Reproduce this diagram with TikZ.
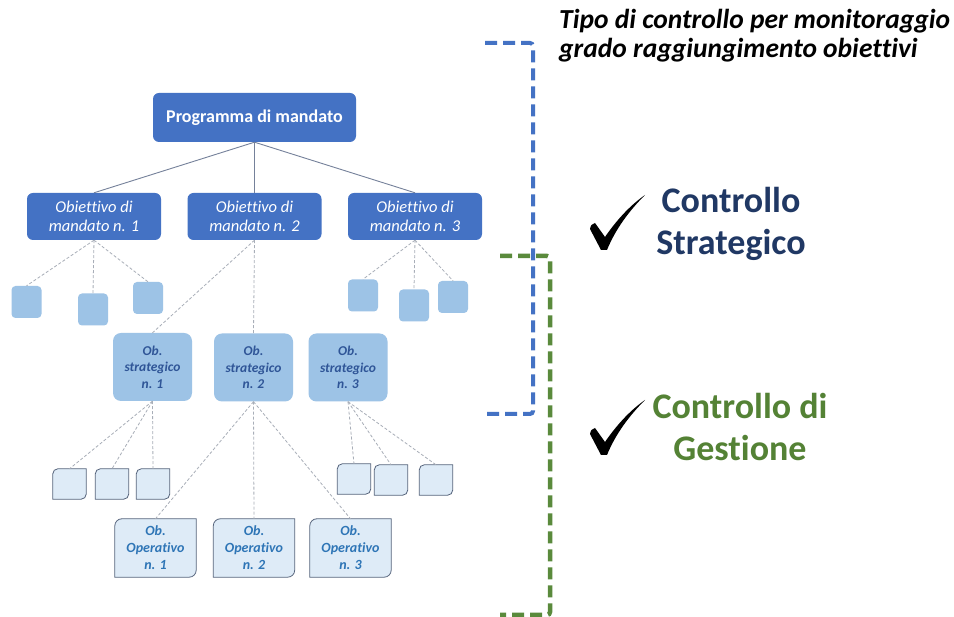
\documentclass[tikz,border=0pt]{standalone}
\usepackage{fontspec}
\setmainfont{Carlito}[Ligatures={NoCommon}]
\usetikzlibrary{calc,backgrounds}
\definecolor{dblue}{HTML}{4472C4}
\definecolor{mblue}{HTML}{9DC3E6}
\definecolor{lblue}{HTML}{DEEBF7}
\definecolor{stxt}{HTML}{2F5597}
\definecolor{optxt}{HTML}{2E75B6}
\definecolor{bordc}{HTML}{56647C}
\definecolor{navy}{HTML}{203864}
\definecolor{gtxt}{HTML}{548235}
\definecolor{gbr}{HTML}{5A8A3C}
\definecolor{bbr}{HTML}{4472C4}
\definecolor{solidc}{HTML}{75819A}
\definecolor{dashcol}{HTML}{A8AEB8}
\tikzset{
  topbox/.style={rectangle, rounded corners=6pt, fill=dblue, text=white, font=\bfseries\fontsize{18}{21}\selectfont, minimum width=203pt, minimum height=49pt, inner sep=0pt},
  mandbox/.style={rectangle, rounded corners=6pt, fill=dblue, text=white, font=\itshape\fontsize{16.5}{18.5}\selectfont, align=center, minimum width=134pt, minimum height=47pt, inner sep=0pt},
  sqm/.style={rectangle, rounded corners=4pt, fill=mblue, minimum width=30pt, minimum height=32pt, inner sep=0pt},
  stratbox/.style={rectangle, rounded corners=8pt, fill=mblue, text=stxt, font=\bfseries\itshape\fontsize{13.5}{16.5}\selectfont, align=center, minimum width=79pt, minimum height=68pt, inner sep=0pt},
  sql/.style={rectangle, minimum width=33pt, minimum height=30pt, inner sep=0pt},
  opbox/.style={rectangle, text=optxt, font=\bfseries\itshape\fontsize{14}{17}\selectfont, align=center, minimum width=81pt, minimum height=58pt, inner sep=0pt},
  diagline/.style={fill=lblue, draw=bordc, line width=0.8pt},
  solidlink/.style={draw=solidc, line width=0.9pt},
  dashlink/.style={draw=dashcol, line width=0.8pt, dash pattern=on 3pt off 2pt},
  bluebr/.style={draw=bbr, line width=4pt, dash pattern=on 12pt off 6pt, rounded corners=3pt},
  greenbr/.style={draw=gbr, line width=4.5pt, dash pattern=on 12pt off 6pt, rounded corners=3pt},
  bigtxt/.style={font=\bfseries\fontsize{36}{42}\selectfont, align=center, inner sep=0pt},
  checkmk/.style={fill=black, draw=none}
}
\newcommand\diagshape[2]{%
  \draw[diagline] (#1.south west) -- ($(#1.north west)+(0,-#2)$) arc[start angle=180,end angle=90,radius=#2] -- (#1.north east) -- ($(#1.south east)+(0,#2)$) arc[start angle=0,end angle=-90,radius=#2] -- cycle;}
\newcommand\checkshape{%
  (-1,0) -- (-12,21) .. controls (-11,25) .. (-7,27) -- (3,13) .. controls (16,32) and (30,46) .. (43,55) .. controls (28,40) and (14,22) .. (5,0) -- cycle}
\begin{document}
\begin{tikzpicture}[x=1pt,y=1pt]
\begin{pgfonlayer}{background}
\fill[white] (0,0) rectangle (954,617);
\end{pgfonlayer}
\useasboundingbox (0,0) rectangle (954,617);

% tree
\node[topbox] (prog) at (254.5,499.5) {Programma di mandato};
\node[mandbox] (m1) at (94,400.5) {Obiettivo di\\mandato n. 1};
\node[mandbox] (m2) at (254.5,400.5) {Obiettivo di\\mandato n. 2};
\node[mandbox] (m3) at (415,400.5) {Obiettivo di\\mandato n. 3};

\node[sqm] (sa) at (26.5,315) {};
\node[sqm] (sb) at (93,307.5) {};
\node[sqm] (sc) at (148,319) {};
\node[sqm] (sd) at (363,321.5) {};
\node[sqm] (se) at (414,311.5) {};
\node[sqm] (sf) at (453,320) {};

\node[stratbox] (st1) at (152.5,250) {Ob.\\strategico\\n. 1};
\node[stratbox] (st2) at (253.5,249.5) {Ob.\\strategico\\n. 2};
\node[stratbox] (st3) at (348,249.5) {Ob.\\strategico\\n. 3};

\node[sql] (qg) at (69.5,133) {};
\node[sql] (qh) at (112,133) {};
\node[sql] (qi) at (153,133) {};
\node[sql] (qj) at (354,138) {};
\node[sql] (qk) at (391,137) {};
\node[sql] (ql) at (436,137) {};

\node[opbox] (op1) at (155.5,69) {Ob.\\Operativo\\n. 1};
\node[opbox] (op2) at (254,69) {Ob.\\Operativo\\n. 2};
\node[opbox] (op3) at (350.5,69) {Ob.\\Operativo\\n. 3};

\begin{pgfonlayer}{background}
  \foreach \n in {qg,qh,qi,qj,qk,ql} {\diagshape{\n}{5pt}}
  \foreach \n in {op1,op2,op3} {\diagshape{\n}{7pt}}
\end{pgfonlayer}

% connectors
\foreach \c in {m1,m2,m3} {\draw[solidlink] (prog.south) -- (\c.north);}
\foreach \c in {sa,sb,sc} {\draw[dashlink] (m1.south) -- (\c.north);}
\foreach \c in {sd,se,sf} {\draw[dashlink] (m3.south) -- (\c.north);}
\foreach \c in {st1,st2} {\draw[dashlink] (m2.south) -- (\c.north);}
\foreach \c in {qg,qh,qi} {\draw[dashlink] (st1.south) -- (\c.north);}
\foreach \c in {op1,op2,op3} {\draw[dashlink] (st2.south) -- (\c.north);}
\foreach \c in {qj,qk,ql} {\draw[dashlink] (st3.south) -- (\c.north);}

% brackets
\coordinate (b1) at (485,574);
\coordinate (b2) at (533,574);
\coordinate (b3) at (533,203);
\coordinate (b4) at (485,203);
\draw[bluebr] (b1) -- (b2) -- (b3) -- (b4);
\coordinate (g1) at (500,361);
\coordinate (g2) at (550,361);
\coordinate (g3) at (550,2);
\coordinate (g4) at (500,2);
\draw[greenbr] (g1) -- (g2) -- (g3) -- (g4);

% right texts
\node[anchor=west, align=left, inner sep=0pt, font=\bfseries\itshape\fontsize{27.5}{29}\selectfont] (title) at (559,581) {Tipo di controllo per monitoraggio\\grado raggiungimento obiettivi};
\node[bigtxt, text=navy] (cs) at (731,393) {Controllo\\Strategico};
\node[bigtxt, text=gtxt] (cg) at (740,190) {Controllo di\\Gestione};
\fill[checkmk, shift={(602,367)}] \checkshape;
\fill[checkmk, shift={(602,162)}] \checkshape;
\end{tikzpicture}
\end{document}
